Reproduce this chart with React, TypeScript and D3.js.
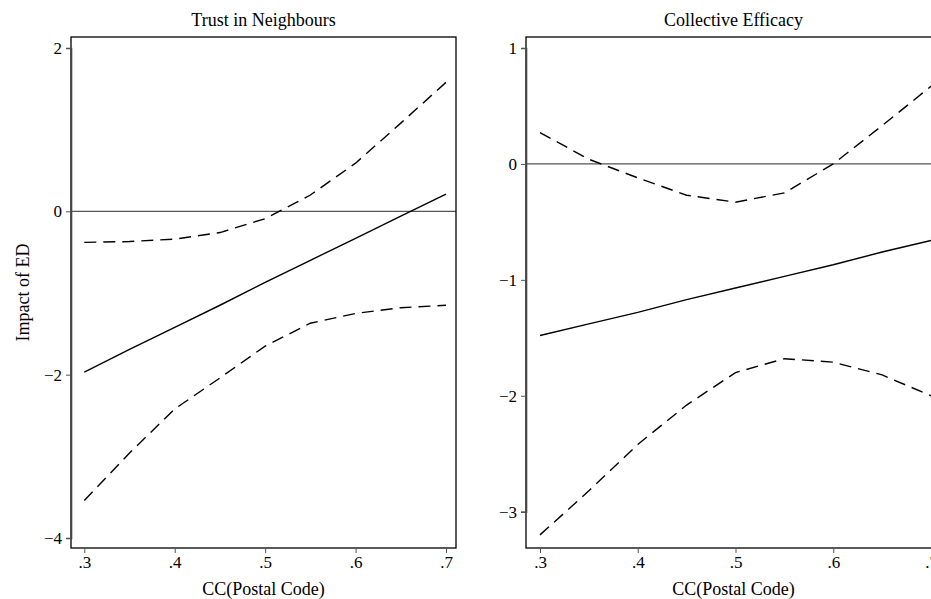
import React, { useEffect, useRef } from "react";
import * as d3 from "d3";

// x positions of the estimates (CC at postal code level)
const ccValues = [0.3, 0.35, 0.4, 0.45, 0.5, 0.55, 0.6, 0.65, 0.7];
const xTicks = [0.3, 0.4, 0.5, 0.6, 0.7];

// Trust in Neighbours
const trustEst = [-1.97, -1.69, -1.42, -1.15, -0.87, -0.6, -0.33, -0.06, 0.21];
const trustUpper = [-0.38, -0.37, -0.34, -0.26, -0.09, 0.2, 0.59, 1.08, 1.58];
const trustLower = [-3.54, -2.96, -2.42, -2.04, -1.65, -1.37, -1.25, -1.18, -1.15];
const trustTicks = [-4, -2, 0, 2];

// Collective Efficacy
const effEst = [-1.48, -1.38, -1.28, -1.17, -1.07, -0.97, -0.87, -0.76, -0.66];
const effUpper = [0.27, 0.04, -0.12, -0.27, -0.33, -0.25, 0.0, 0.33, 0.67];
const effLower = [-3.2, -2.82, -2.42, -2.08, -1.8, -1.68, -1.71, -1.82, -2.0];
const effTicks = [-3, -2, -1, 0, 1];

const FONT = "'Liberation Serif', 'Times New Roman', serif";

type Panel = {
  title: string;
  est: number[];
  upper: number[];
  lower: number[];
  yTicks: number[];
  yDomain: [number, number];
  yRange: [number, number];
  frame: [number, number]; // left, right of plot box
  xRange: [number, number];
  yLabel?: string;
};

const panels: Panel[] = [
  {
    title: "Trust in Neighbours",
    est: trustEst,
    upper: trustUpper,
    lower: trustLower,
    yTicks: trustTicks,
    yDomain: [-4, 2],
    yRange: [538, 48],
    frame: [71, 456],
    xRange: [84.3, 446],
    yLabel: "Impact of ED",
  },
  {
    title: "Collective Efficacy",
    est: effEst,
    upper: effUpper,
    lower: effLower,
    yTicks: effTicks,
    yDomain: [-3, 1],
    yRange: [511.7, 48],
    frame: [526, 941],
    xRange: [540, 931],
  },
];

const top = 37;
const bottom = 548;

function drawPanel(svg: d3.Selection<SVGSVGElement, unknown, null, undefined>, p: Panel) {
  const x = d3.scaleLinear().domain([0.3, 0.7]).range(p.xRange);
  const y = d3.scaleLinear().domain(p.yDomain).range(p.yRange);

  const g = svg.append("g");
  const [fl, fr] = p.frame;

  // zero reference line
  g.append("line")
    .attr("x1", fl).attr("x2", fr)
    .attr("y1", y(0)).attr("y2", y(0))
    .attr("stroke", "#555").attr("stroke-width", 1.2);

  const lineGen = d3.line<number>()
    .x((_, i) => x(ccValues[i]))
    .y(d => y(d));

  g.append("path").attr("d", lineGen(p.est)!)
    .attr("fill", "none").attr("stroke", "#000").attr("stroke-width", 1.4);
  [p.upper, p.lower].forEach(s => {
    g.append("path").attr("d", lineGen(s)!)
      .attr("fill", "none").attr("stroke", "#000").attr("stroke-width", 1.4)
      .attr("stroke-dasharray", "12,7");
  });

  // frame
  g.append("rect")
    .attr("x", fl).attr("y", top)
    .attr("width", fr - fl).attr("height", bottom - top)
    .attr("fill", "none").attr("stroke", "#000").attr("stroke-width", 1.3);

  // y axis
  const yAxis = g.append("g").attr("transform", `translate(${fl},0)`)
    .call(d3.axisLeft(y).tickValues(p.yTicks).tickSize(5).tickPadding(4)
      .tickFormat(d => d3.format("")(d as number).replace("-", "\u2212")));
  yAxis.select(".domain").attr("stroke", "#444").attr("stroke-width", 1.6);
  yAxis.selectAll("line").attr("stroke", "#555");
  yAxis.selectAll("text").attr("font-family", FONT).attr("font-size", 17).attr("fill", "#000");

  // x axis
  const xAxis = g.append("g").attr("transform", `translate(0,${bottom})`)
    .call(d3.axisBottom(x).tickValues(xTicks).tickSize(5).tickPadding(3)
      .tickFormat(d => d3.format(".1f")(d as number).replace(/^0/, "")));
  xAxis.select(".domain").remove();
  xAxis.selectAll("line").attr("stroke", "#555");
  xAxis.selectAll("text").attr("font-family", FONT).attr("font-size", 17).attr("fill", "#000");

  const cx = (fl + fr) / 2;
  g.append("text")
    .attr("x", cx).attr("y", 26)
    .attr("text-anchor", "middle")
    .attr("font-family", FONT).attr("font-size", 18)
    .text(p.title);

  g.append("text")
    .attr("x", cx).attr("y", 595)
    .attr("text-anchor", "middle")
    .attr("font-family", FONT).attr("font-size", 18)
    .text("CC(Postal Code)");

  if (p.yLabel) {
    g.append("text")
      .attr("transform", `translate(29,${(top + bottom) / 2}) rotate(-90)`)
      .attr("text-anchor", "middle")
      .attr("font-family", FONT).attr("font-size", 18)
      .text(p.yLabel);
  }
}

export default function App() {
  const ref = useRef<SVGSVGElement>(null);

  useEffect(() => {
    const svg = d3.select(ref.current!);
    svg.selectAll("*").remove();
    svg.append("rect").attr("width", 931).attr("height", 599).attr("fill", "#fff");
    panels.forEach(p => drawPanel(svg, p));
  }, []);

  return (
    <svg
      ref={ref}
      width={931}
      height={599}
      style={{ position: "absolute", left: 0, top: 0, overflow: "hidden" }}
    />
  );
}
